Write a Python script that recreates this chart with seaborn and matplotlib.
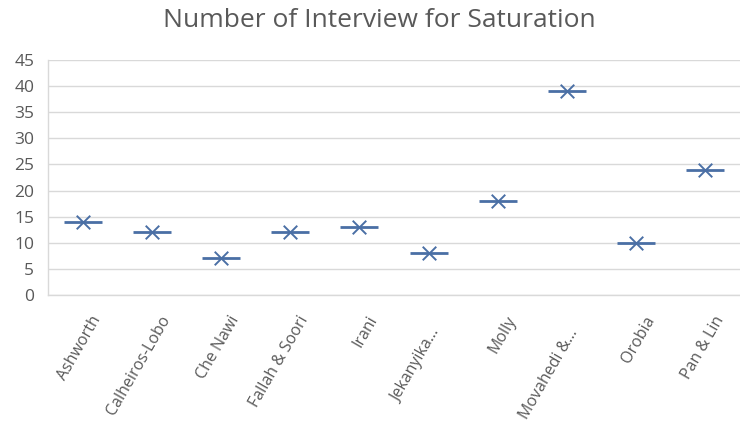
import matplotlib
matplotlib.use("Agg")
import matplotlib.pyplot as plt
import matplotlib.transforms as mtransforms
import seaborn as sns
import pandas as pd

studies = ["Ashworth", "Calheiros-Lobo", "Che Nawi", "Fallah & Soori", "Irani",
           "Jekanyika...", "Molly", "Movahedi &...", "Orobia", "Pan & Lin"]
interviews = [14, 12, 7, 12, 13, 8, 18, 39, 10, 24]
y_ticks = [0, 5, 10, 15, 20, 25, 30, 35, 40, 45]

df = pd.DataFrame({"study": studies, "interviews": interviews})

sns.set_theme(style="white")
plt.rcParams["font.family"] = ["Open Sans", "DejaVu Sans"]

blue = "#4a6fa5"
grey_text = "#595959"
grid = "#d9d9d9"

fig = plt.figure(figsize=(7.4, 4.26), dpi=100)
ax = fig.add_axes([0.065, 0.3075, 0.935, 0.5515])

# flat bar (zero-height box) for each study
sns.scatterplot(data=df, x="study", y="interviews", marker="_", s=760,
                color=blue, linewidth=2.0, ax=ax, zorder=3)
# cross marker at the value
sns.scatterplot(data=df, x="study", y="interviews", marker="x", s=95,
                color=blue, linewidth=1.4, ax=ax, zorder=4)

ax.set_xlim(-0.5, len(studies) - 0.5)
ax.set_ylim(0, 45)
ax.set_yticks(y_ticks)
ax.set_yticklabels([str(v) for v in y_ticks], fontsize=12.5, color=grey_text)
ax.set_xticks(range(len(studies)))
ax.set_xticklabels(studies, rotation=60, ha="right", rotation_mode="anchor",
                   fontsize=11.5, color=grey_text)
ax.tick_params(axis="both", length=0)
ax.tick_params(axis="y", pad=10)
ax.tick_params(axis="x", pad=13)

# nudge the rotated labels right; truncated names sit further down their slant
for lab in ax.get_xticklabels():
    dx, dy = 8, 0
    if lab.get_text().endswith("..."):
        dx, dy = dx - 7.5, -13
    shift = mtransforms.ScaledTranslation(dx / 100, dy / 100, fig.dpi_scale_trans)
    lab.set_transform(lab.get_transform() + shift)

ax.grid(axis="y", color=grid, linewidth=1)
ax.set_axisbelow(True)
for side in ["top", "right"]:
    ax.spines[side].set_visible(False)
for side in ["left", "bottom"]:
    ax.spines[side].set_color(grid)
    ax.spines[side].set_linewidth(1)

ax.set_xlabel("")
ax.set_ylabel("")
fig.text(0.512, 0.952, "Number of Interview for Saturation", ha="center", va="center",
         fontsize=19, color=grey_text)

fig.savefig("out.png", dpi=100)
